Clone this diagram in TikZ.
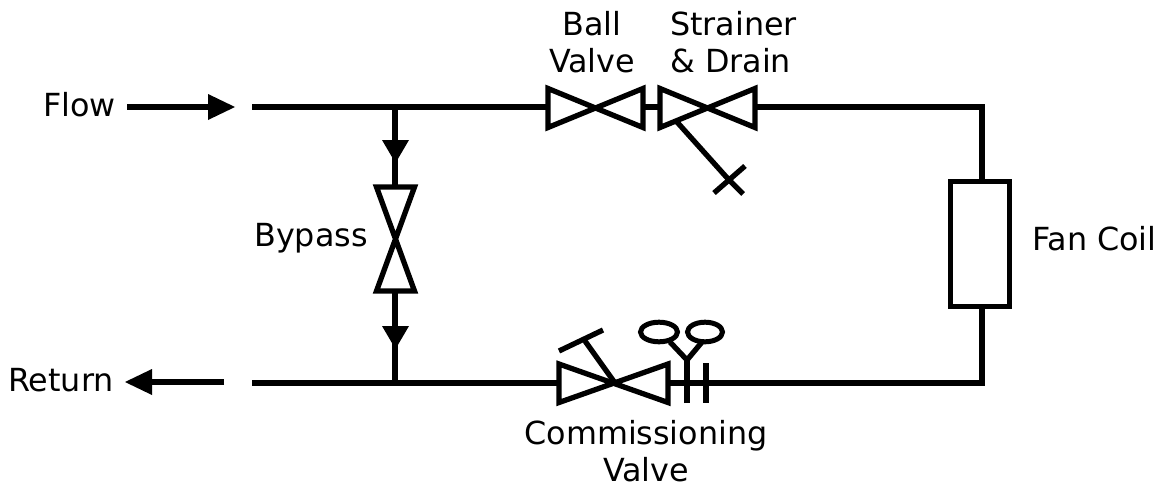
\documentclass[tikz,border=0pt]{standalone}
\usepackage{fontspec}
\setmainfont{DejaVu Sans}
\begin{document}
\begin{tikzpicture}[x=1pt,y=-1pt,
  pipe/.style={line width=5.7pt,line cap=butt,line join=miter},
  valve/.style={line width=5.3pt,line join=miter,miter limit=10},
  tick/.style={line width=5.3pt},
  head/.style={fill=black,draw=none},
  lab/.style={font=\fontsize{31.8}{37.5}\selectfont,inner sep=0pt,text=black}]
\useasboundingbox (0,0) rectangle (1167,487);
% named points
\coordinate (flowS) at (127,107); \coordinate (flowB) at (210,107);
\coordinate (retE) at (224,382); \coordinate (retB) at (150,382);
\coordinate (topS) at (252,107); \coordinate (botS) at (252,383);
\coordinate (jt) at (395,107); \coordinate (jb) at (395,383);
\coordinate (bvL) at (548,107); \coordinate (bvC) at (595,107); \coordinate (bvR) at (643,107);
\coordinate (svL) at (660,107); \coordinate (svC) at (707,107); \coordinate (svR) at (755,107);
\coordinate (cvL) at (559,383); \coordinate (cvC) at (615,383); \coordinate (cvR) at (668,383);
\coordinate (ctr) at (982,107); \coordinate (cbr) at (982,383);
\coordinate (byT) at (395,187); \coordinate (byC) at (395,239); \coordinate (byB) at (395,292);
\coordinate (drainS) at (677,122); \coordinate (drainX) at (729,180);
\coordinate (stemE) at (585,341);
\coordinate (fl1) at (687,383); \coordinate (fl2) at (706,383);
\coordinate (yJ) at (687,360);
% fan coil
\node[draw,line width=5pt,minimum width=59pt,minimum height=125pt,inner sep=0pt] (coil) at (980,244) {};
% pipes
\draw[pipe] (flowS) -- (flowB);
\fill[head] (208,94) -- (235,107) -- (208,120) -- cycle;
\draw[pipe] (retE) -- (retB);
\fill[head] (152,369) -- (125,382) -- (152,395) -- cycle;
\draw[pipe] (topS) -- (bvL);
\draw[pipe] (bvR) -- (svL);
\draw[pipe] (svR) -- (ctr) -- ([xshift=2pt]coil.north);
\draw[pipe] ([xshift=2pt]coil.south) -- (cbr) -- (cvR);
\draw[pipe] (botS) -- (cvL);
\draw[pipe] (jt) -- (byT);
\draw[pipe] (byB) -- (jb);
\fill[head] (382,140) -- (409,140) -- (395.5,163) -- cycle;
\fill[head] (382,326) -- (409,326) -- (395.5,349) -- cycle;
% valves
\draw[valve] (bvL |- 0,88.5) -- (bvR |- 0,127.5) -- (bvR |- 0,88.5) -- (bvL |- 0,127.5) -- cycle;
\draw[valve] (svL |- 0,88.5) -- (svR |- 0,127.5) -- (svR |- 0,88.5) -- (svL |- 0,127.5) -- cycle;
\draw[valve] (cvL |- 0,364) -- (cvR |- 0,402.5) -- (cvR |- 0,364) -- (cvL |- 0,402.5) -- cycle;
\draw[valve] (376.5,187) -- (414.5,187) -- (376.5,291) -- (414.5,291) -- cycle;
% drain
\draw[tick] (drainS) -- (drainX);
\draw[tick] (714,193) -- (745,166);
\draw[tick] (drainX) -- (743,194);
% handwheel
\draw[tick] (cvC) -- (stemE);
\draw[tick] (559,351) -- (603,330);
% balancing ports
\draw[tick] (fl1) ++(0,20) -- (yJ);
\draw[tick] (706,363) -- (706,403);
\draw[tick] (yJ) -- (670,342);
\draw[tick] (yJ) -- (702,342);
\draw[line width=5pt] (659,332) ellipse (18.5 and 9.8);
\draw[line width=5pt] (705,332) ellipse (17.5 and 9.8);
% labels
\node[lab,anchor=west] (lFlow) at (43,105) {Flow};
\node[lab,anchor=west] (lRet) at (8,380) {Return};
\node[lab,align=center] (lBall) at (592,42) {Ball\\Valve};
\node[lab,align=left,anchor=west] (lStr) at (670,42) {Strainer\\\& Drain};
\node[lab,anchor=west] (lBy) at (254,238) {Bypass};
\node[lab,anchor=west] (lFan) at (1032,239) {Fan Coil};
\node[lab,align=center] (lCom) at (646,451) {Commissioning\\Valve};
\end{tikzpicture}
\end{document}
